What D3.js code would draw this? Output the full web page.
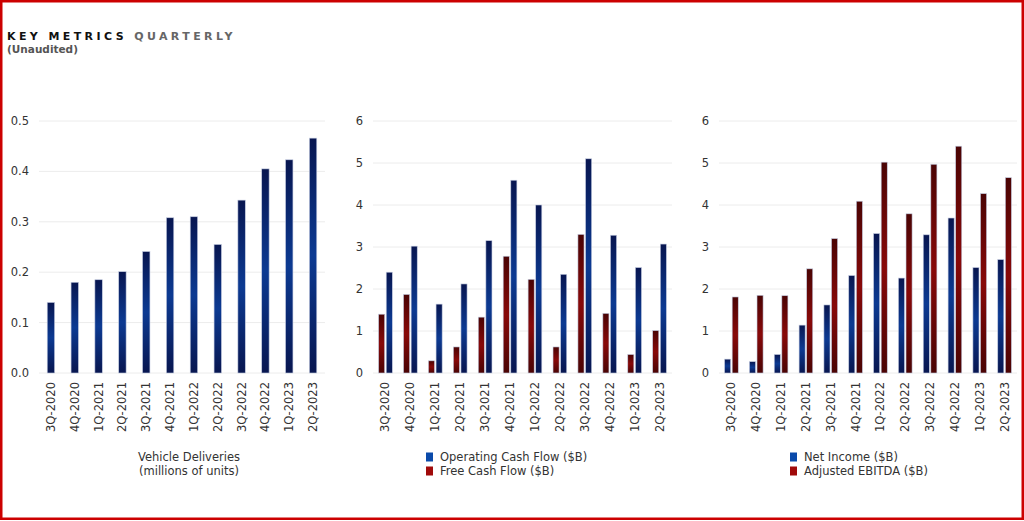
<!DOCTYPE html>
<html>
<head>
<meta charset="utf-8">
<script src="https://cdn.jsdelivr.net/npm/d3@7"></script>
<style>
  html, body { margin: 0; padding: 0; background: #fff; }
  svg { display: block; }
  text { font-family: "DejaVu Sans", sans-serif; }
</style>
</head>
<body>
<svg id="chart" width="1024" height="521"></svg>
<script>
const quarters = ["3Q-2020","4Q-2020","1Q-2021","2Q-2021","3Q-2021","4Q-2021","1Q-2022","2Q-2022","3Q-2022","4Q-2022","1Q-2023","2Q-2023"];
const deliveries = [0.140, 0.180, 0.185, 0.201, 0.241, 0.308, 0.310, 0.255, 0.343, 0.405, 0.423, 0.466];
const operatingCashFlow = [2.40, 3.02, 1.64, 2.12, 3.15, 4.59, 4.00, 2.35, 5.10, 3.28, 2.51, 3.07];
const freeCashFlow = [1.40, 1.87, 0.29, 0.62, 1.33, 2.78, 2.23, 0.62, 3.30, 1.42, 0.44, 1.01];
const netIncome = [0.33, 0.27, 0.44, 1.14, 1.62, 2.32, 3.32, 2.26, 3.29, 3.69, 2.51, 2.70];
const adjustedEbitda = [1.81, 1.85, 1.84, 2.48, 3.20, 4.09, 5.02, 3.79, 4.97, 5.40, 4.27, 4.65];
const deliveryTicks = [0, 0.1, 0.2, 0.3, 0.4, 0.5];
const dollarTicks = [0, 1, 2, 3, 4, 5, 6];

const svg = d3.select("#chart");
const defs = svg.append("defs");
function grad(id, dark, mid) {
  const g = defs.append("linearGradient").attr("id", id)
    .attr("x1", 0).attr("y1", 0).attr("x2", 0).attr("y2", 1);
  g.append("stop").attr("offset", "0%").attr("stop-color", dark);
  g.append("stop").attr("offset", "50%").attr("stop-color", mid);
  g.append("stop").attr("offset", "100%").attr("stop-color", dark);
}
grad("gBlue", "#081650", "#0c3a92");
grad("gRed", "#4a0404", "#880909");

// Title
const title = svg.append("text").attr("x", 7).attr("y", 40)
  .attr("font-size", 11).attr("font-weight", "bold").attr("letter-spacing", 3.4);
title.append("tspan").attr("fill", "#111").text("KEY METRICS ");
title.append("tspan").attr("fill", "#666").text("QUARTERLY");
svg.append("text").attr("x", 7).attr("y", 53).attr("font-size", 10.5)
  .attr("font-weight", "bold").attr("fill", "#555").text("(Unaudited)");

const y0 = 373, y1 = 121;

function panel(opts) {
  const g = svg.append("g");
  const y = d3.scaleLinear().domain(opts.domain).range([y0, y1]);
  const x0 = d3.scaleBand().domain(quarters).range(opts.range)
    .paddingInner(opts.pInner).paddingOuter(opts.pInner / 2);

  // grid
  g.selectAll("line.grid").data(opts.ticks).join("line")
    .attr("x1", opts.range[0]).attr("x2", opts.range[1])
    .attr("y1", d => y(d)).attr("y2", d => y(d))
    .attr("stroke", "#ececec").attr("stroke-width", 1);
  // y labels
  g.selectAll("text.yl").data(opts.ticks).join("text")
    .attr("x", opts.range[0] - 10).attr("y", d => y(d) + 4)
    .attr("text-anchor", "end").attr("font-size", 11.5).attr("fill", "#333")
    .text(d => opts.fmt(d));

  const x1 = d3.scaleBand().domain(opts.series.map((s, i) => i))
    .range([0, x0.bandwidth()]).paddingInner(opts.series.length > 1 ? 0.2 : 0);

  opts.series.forEach((s, si) => {
    g.selectAll("rect.s" + si).data(s.values).join("rect")
      .attr("x", (d, i) => x0(quarters[i]) + x1(si))
      .attr("width", x1.bandwidth())
      .attr("y", d => y(d))
      .attr("height", d => y0 - y(d))
      .attr("fill", s.fill)
      .attr("stroke", "#c3cbe0").attr("stroke-width", 0.6);
  });

  // x labels
  g.selectAll("text.xl").data(quarters).join("text")
    .attr("transform", d => `translate(${x0(d) + x0.bandwidth() / 2 + 4},382) rotate(-90)`)
    .attr("text-anchor", "end").attr("font-size", 11.5).attr("fill", "#333")
    .text(d => d);
  return g;
}

panel({
  domain: [0, 0.5], range: [39, 325], pInner: 0.69, ticks: deliveryTicks,
  fmt: d3.format(".1f"),
  series: [{ values: deliveries, fill: "url(#gBlue)" }]
});
panel({
  domain: [0, 6], range: [373, 672], pInner: 0.45, ticks: dollarTicks,
  fmt: d3.format("d"),
  series: [{ values: freeCashFlow, fill: "url(#gRed)" }, { values: operatingCashFlow, fill: "url(#gBlue)" }]
});
panel({
  domain: [0, 6], range: [719, 1017], pInner: 0.45, ticks: dollarTicks,
  fmt: d3.format("d"),
  series: [{ values: netIncome, fill: "url(#gBlue)" }, { values: adjustedEbitda, fill: "url(#gRed)" }]
});

// captions / legends
svg.append("text").attr("x", 189).attr("y", 461).attr("text-anchor", "middle")
  .attr("font-size", 11.5).attr("fill", "#333").text("Vehicle Deliveries");
svg.append("text").attr("x", 189).attr("y", 475).attr("text-anchor", "middle")
  .attr("font-size", 11.5).attr("fill", "#333").text("(millions of units)");

function legend(x, items) {
  items.forEach((it, i) => {
    const cy = 457 + i * 14;
    svg.append("rect").attr("x", x).attr("y", cy - 4.5).attr("width", 7).attr("height", 9)
      .attr("fill", it.color);
    svg.append("text").attr("x", x + 14).attr("y", cy + 4)
      .attr("font-size", 11.5).attr("fill", "#333").text(it.label);
  });
}
legend(426, [{ color: "#0a4aaa", label: "Operating Cash Flow ($B)" }, { color: "#a00a0a", label: "Free Cash Flow ($B)" }]);
legend(790, [{ color: "#0a4aaa", label: "Net Income ($B)" }, { color: "#a00a0a", label: "Adjusted EBITDA ($B)" }]);

// frame
svg.append("rect").attr("x", 1.25).attr("y", 1.25).attr("width", 1021.5).attr("height", 517.5)
  .attr("fill", "none").attr("stroke", "#cc0000").attr("stroke-width", 2.5);
</script>
</body>
</html>
